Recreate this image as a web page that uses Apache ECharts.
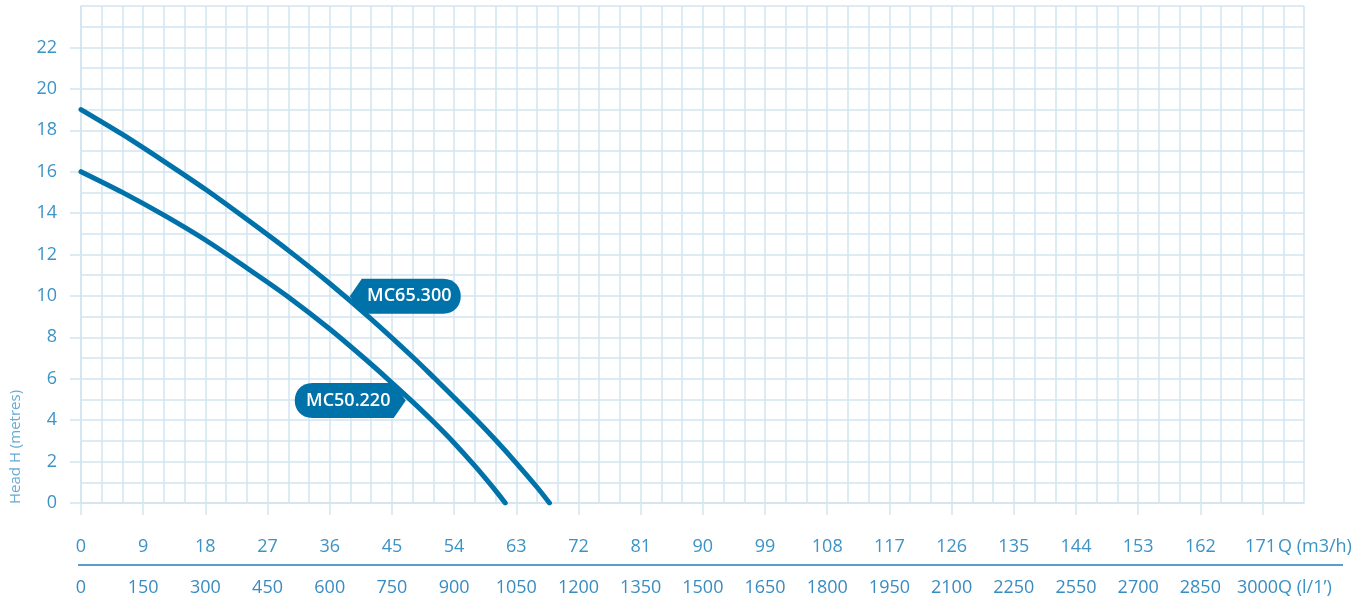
<!DOCTYPE html>
<html>
<head>
<meta charset="utf-8">
<title>Pump curves MC50.220 / MC65.300</title>
<script src="https://cdn.jsdelivr.net/npm/echarts@6/dist/echarts.min.js"></script>
<style>
  html, body { margin: 0; padding: 0; background: #ffffff; }
  #chart { width: 1368px; height: 600px; }
</style>
</head>
<body>
<div id="chart"></div>
<script>
// Flow Q (m3/h) and head H (m) for each pump
const mc65Flow = [0, 6, 12, 18, 24, 30, 36, 42, 48, 51, 54, 57, 60, 63, 66, 67.8];
const mc65Head = [19.0, 17.8, 16.5, 15.15, 13.7, 12.2, 10.6, 8.88, 7.05, 6.08, 5.09, 4.09, 3.04, 1.93, 0.76, 0];

const mc50Flow = [0, 6, 12, 18, 24, 30, 36, 42, 45, 48, 51, 54, 57, 60, 61.4];
const mc50Head = [16.0, 15.0, 13.9, 12.7, 11.35, 9.95, 8.4, 6.7, 5.8, 4.88, 3.92, 2.9, 1.79, 0.6, 0];

// Tick labels
const flowTicks = [0, 9, 18, 27, 36, 45, 54, 63, 72, 81, 90, 99, 108, 117, 126, 135, 144, 153, 162, 171];
const lpmLabels = ['0', '150', '300', '450', '600', '750', '900', '1050', '1200', '1350', '1500',
  '1650', '1800', '1950', '2100', '2250', '2550', '2700', '2850', '3000'];
const headTicks = [0, 2, 4, 6, 8, 10, 12, 14, 16, 18, 20, 22];

// Curve name tags: [name, flow, head] at the tag's tip
const tagMC65 = ['MC65.300', 38.9, 9.98];
const tagMC50 = ['MC50.220', 47.0, 4.95];

const BLUE = '#0072aa';
const GRID = '#d2e5f0';
const LABEL = '#3c93c6';
const FONT = '"Open Sans", "Noto Sans", sans-serif';

const pairs = (xs, ys) => xs.map((x, i) => [x, ys[i]]);

// Tag pointing left (tip at left middle), rounded right end
const tagLeft = 'path://M0,17.5 L12,0 L93.5,0 C117,0 117,35 93.5,35 L12,35 Z';
// Tag pointing right (tip at right middle), rounded left end
const tagRight = 'path://M17.5,0 L99,0 L111,17.5 L99,35 L17.5,35 C-6,35 -6,0 17.5,0 Z';

function tag(info, symbol, offsetX, textDx) {
  return {
    silent: true,
    symbol: symbol,
    symbolSize: [111, 35],
    symbolOffset: [offsetX, 0],
    itemStyle: { color: BLUE },
    label: {
      show: true,
      position: 'inside',
      offset: [textDx, 0],
      formatter: info[0],
      color: '#ffffff',
      fontFamily: FONT,
      fontSize: 18,
      fontWeight: 600
    },
    data: [{ coord: [info[1], info[2]] }]
  };
}

// Hidden axes that only carry the fine grid (every 3 m3/h, every 1 m)
const gridLine = { show: true, lineStyle: { color: GRID, width: 1.5 } };
const hidden = {
  axisLine: { show: false },
  axisTick: { show: false },
  axisLabel: { show: false },
  splitLine: gridLine
};

const chart = echarts.init(document.getElementById('chart'));
chart.setOption({
  animation: false,
  backgroundColor: '#ffffff',
  grid: { left: 81, right: 64, top: 6, bottom: 97, containLabel: false, outerBoundsMode: 'none' },
  xAxis: [
    {
      type: 'value',
      min: 0,
      max: 177,
      interval: 3,
      axisLine: { show: true, lineStyle: { color: GRID, width: 1.5 } },
      axisTick: { show: true, customValues: flowTicks, length: 12, lineStyle: { color: GRID, width: 1.5 } },
      splitLine: { show: false },
      axisLabel: {
        customValues: flowTicks,
        margin: 23,
        formatter: (v) => {
          const i = flowTicks.indexOf(v);
          const last = i === flowTicks.length - 1;
          return '{' + (last ? 'd' : 'a') + '|' + v + '}\n{' + (last ? 'c' : 'b') + '|' + lpmLabels[i] + '}';
        },
        rich: {
          a: { color: LABEL, fontFamily: FONT, fontSize: 18, lineHeight: 41 },
          d: { color: LABEL, fontFamily: FONT, fontSize: 18, lineHeight: 41, padding: [0, 4, 0, 0] },
          b: { color: '#3a8cc0', fontFamily: FONT, fontSize: 18, lineHeight: 41 },
          c: { color: '#3a8cc0', fontFamily: FONT, fontSize: 18, lineHeight: 41, padding: [0, 10, 0, 0] }
        }
      },
      name: 'Q (m3/h)\nQ (l/1\u2019)',
      nameLocation: 'end',
      nameGap: -26,
      nameMoveOverlap: false,
      nameTextStyle: {
        color: LABEL, fontFamily: FONT, fontSize: 18, lineHeight: 41,
        align: 'left', verticalAlign: 'top', padding: [23, 0, 0, 0]
      }
    },
    Object.assign({ type: 'value', min: 0, max: 177, interval: 3, position: 'top' }, hidden)
  ],
  yAxis: [
    {
      type: 'value',
      min: 0,
      max: 24,
      interval: 1,
      axisLine: { show: true, lineStyle: { color: GRID, width: 1.5 } },
      axisTick: { show: true, customValues: headTicks, length: 11, lineStyle: { color: GRID, width: 1.5 } },
      splitLine: { show: false },
      axisLabel: {
        customValues: headTicks,
        margin: 24,
        color: LABEL,
        fontFamily: FONT,
        fontSize: 18,
        padding: [0, 0, 13, 0]
      }
    },
    Object.assign({ type: 'value', min: 0, max: 24, interval: 1, position: 'right' }, hidden)
  ],
  graphic: [
    {
      type: 'line',
      silent: true,
      shape: { x1: 78, y1: 565, x2: 1343, y2: 565 },
      style: { stroke: '#58a0cc', lineWidth: 2 }
    },
    {
      type: 'text',
      silent: true,
      x: 16,
      y: 504,
      rotation: Math.PI / 2,
      style: {
        text: 'Head H (metres)',
        fill: '#66abd4',
        font: '15px "Open Sans", "Noto Sans", sans-serif',
        align: 'left',
        verticalAlign: 'middle'
      }
    }
  ],
  series: [
    {
      name: 'MC65.300',
      type: 'line',
      smooth: 0.3,
      showSymbol: false,
      silent: true,
      z: 3,
      lineStyle: { color: BLUE, width: 5, cap: 'round' },
      data: pairs(mc65Flow, mc65Head),
      markPoint: tag(tagMC65, tagLeft, 55.5, 4)
    },
    {
      name: 'MC50.220',
      type: 'line',
      smooth: 0.3,
      showSymbol: false,
      silent: true,
      z: 3,
      lineStyle: { color: BLUE, width: 5, cap: 'round' },
      data: pairs(mc50Flow, mc50Head),
      markPoint: tag(tagMC50, tagRight, -55.5, -2)
    }
  ]
});
</script>
</body>
</html>
